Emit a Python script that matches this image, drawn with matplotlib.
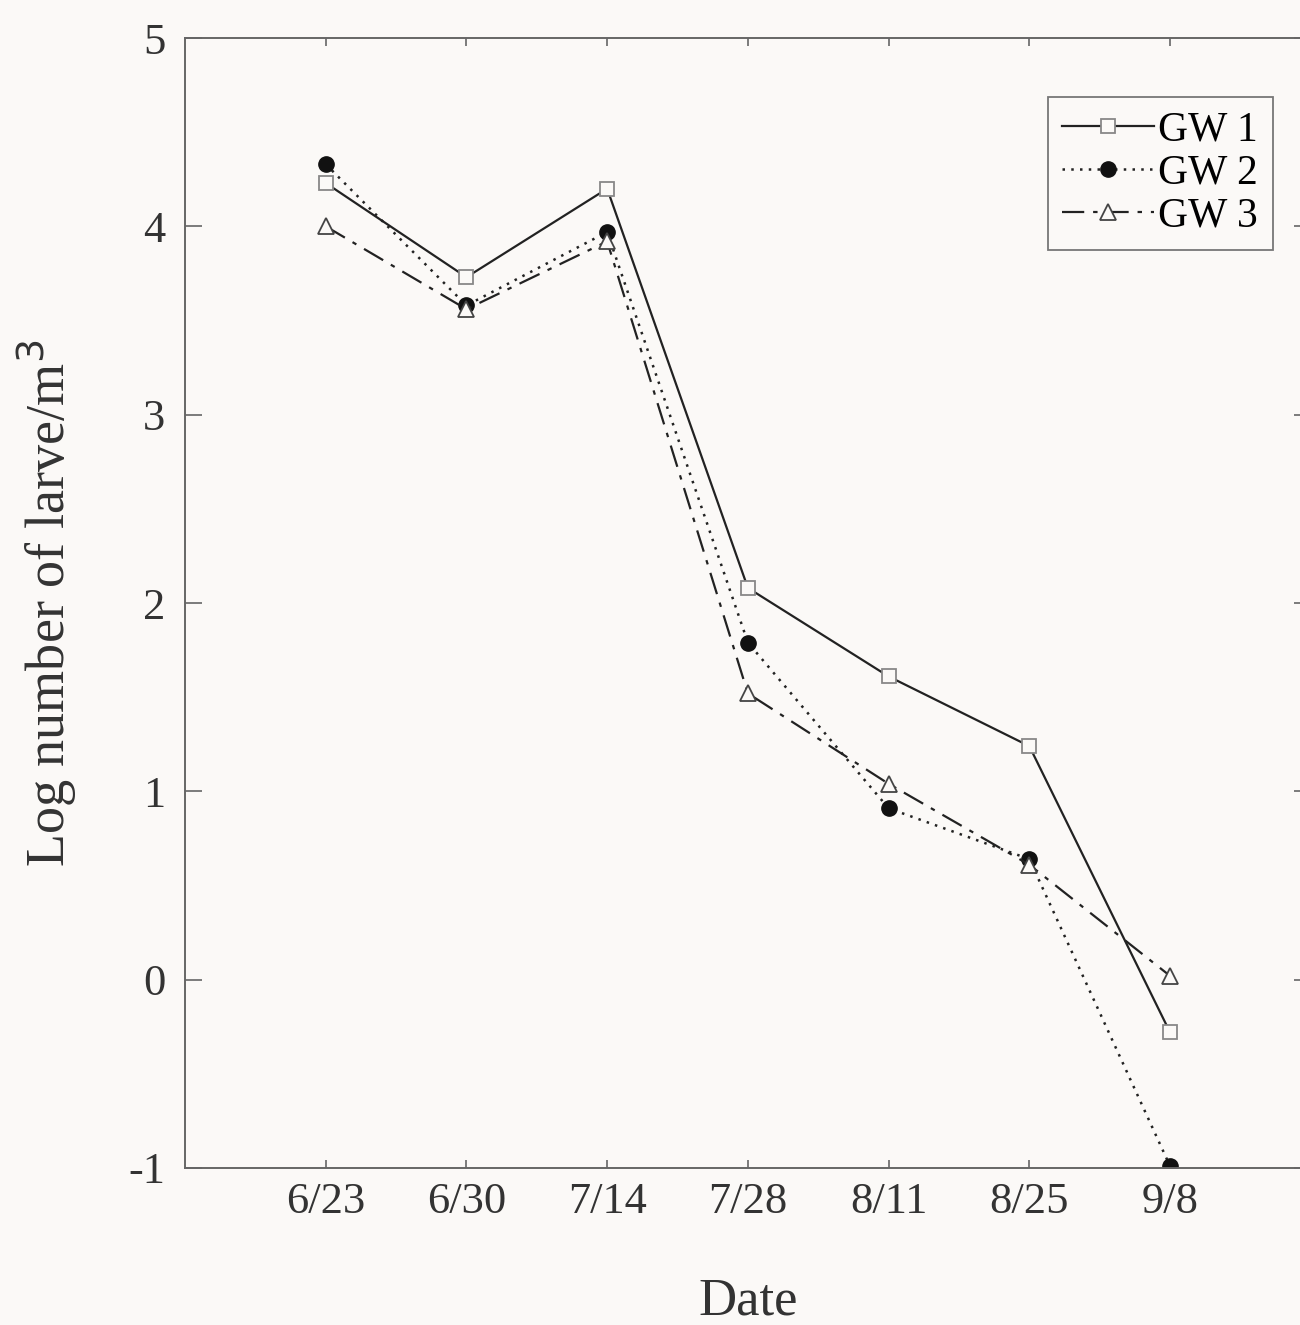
import matplotlib
matplotlib.use("Agg")
import matplotlib.pyplot as plt
import numpy as np

dates = ["6/23", "6/30", "7/14", "7/28", "8/11", "8/25", "9/8"]
gw1 = [4.23, 3.73, 4.20, 2.08, 1.61, 1.24, -0.28]
gw2 = [4.33, 3.58, 3.97, 1.79, 0.91, 0.64, -0.99]
gw3 = [4.00, 3.56, 3.92, 1.52, 1.04, 0.61, 0.02]

plt.rcParams['font.family'] = ['Liberation Serif', 'DejaVu Serif']
plt.rcParams['axes.unicode_minus'] = False

bg = '#fbf9f7'
ink = '#222222'
x = np.arange(1, len(dates) + 1)

fig = plt.figure(figsize=(13, 13.25), dpi=100, facecolor=bg)
ax = fig.add_axes([0.1423, 0.1185, 0.866, 0.8528], facecolor=bg)

ax.plot(x, gw1, color=ink, lw=1.6, ls='-', marker='s', ms=10,
        mfc=bg, mec='#888888', mew=1.3, label='GW 1')
ax.plot(x, gw2, color=ink, lw=1.8, ls=(0, (1, 2.5)), marker='o', ms=11,
        mfc='#111111', mec='#111111', label='GW 2')
ax.plot(x, gw3, color=ink, lw=1.6, ls=(0, (10, 4, 2, 4)), marker='^', ms=11,
        mfc=bg, mec='#444444', mew=1.3, label='GW 3')

ax.set_xlim(0, len(dates) + 1)
ax.set_ylim(-1, 5)
ax.set_xticks(x)
ax.set_xticklabels(dates)
ax.set_yticks(range(-1, 6))

for s in ax.spines.values():
    s.set_color('#666666')
    s.set_linewidth(1.4)

ax.tick_params(axis='both', direction='in', colors='#666666', labelcolor='#333333',
               labelsize=32, top=True, right=True)
ax.tick_params(axis='y', length=12, width=1.2, pad=14)
ax.tick_params(axis='x', length=6, width=1.2, pad=10)

ax.set_xlabel('Date', fontsize=38, color='#333333', labelpad=40)
ax.set_ylabel('Log number of larve/m$^3$', fontsize=39, color='#333333', labelpad=36)

leg = ax.legend(loc='upper right', bbox_to_anchor=(0.966, 0.948), borderaxespad=0,
                fontsize=30, fancybox=False, framealpha=1, facecolor=bg,
                edgecolor='#777777', handlelength=2.2, handletextpad=0.1,
                labelspacing=0.1, borderpad=0.35)
leg.get_frame().set_linewidth(1.3)

fig.savefig('out.png', dpi=100, facecolor=bg)
